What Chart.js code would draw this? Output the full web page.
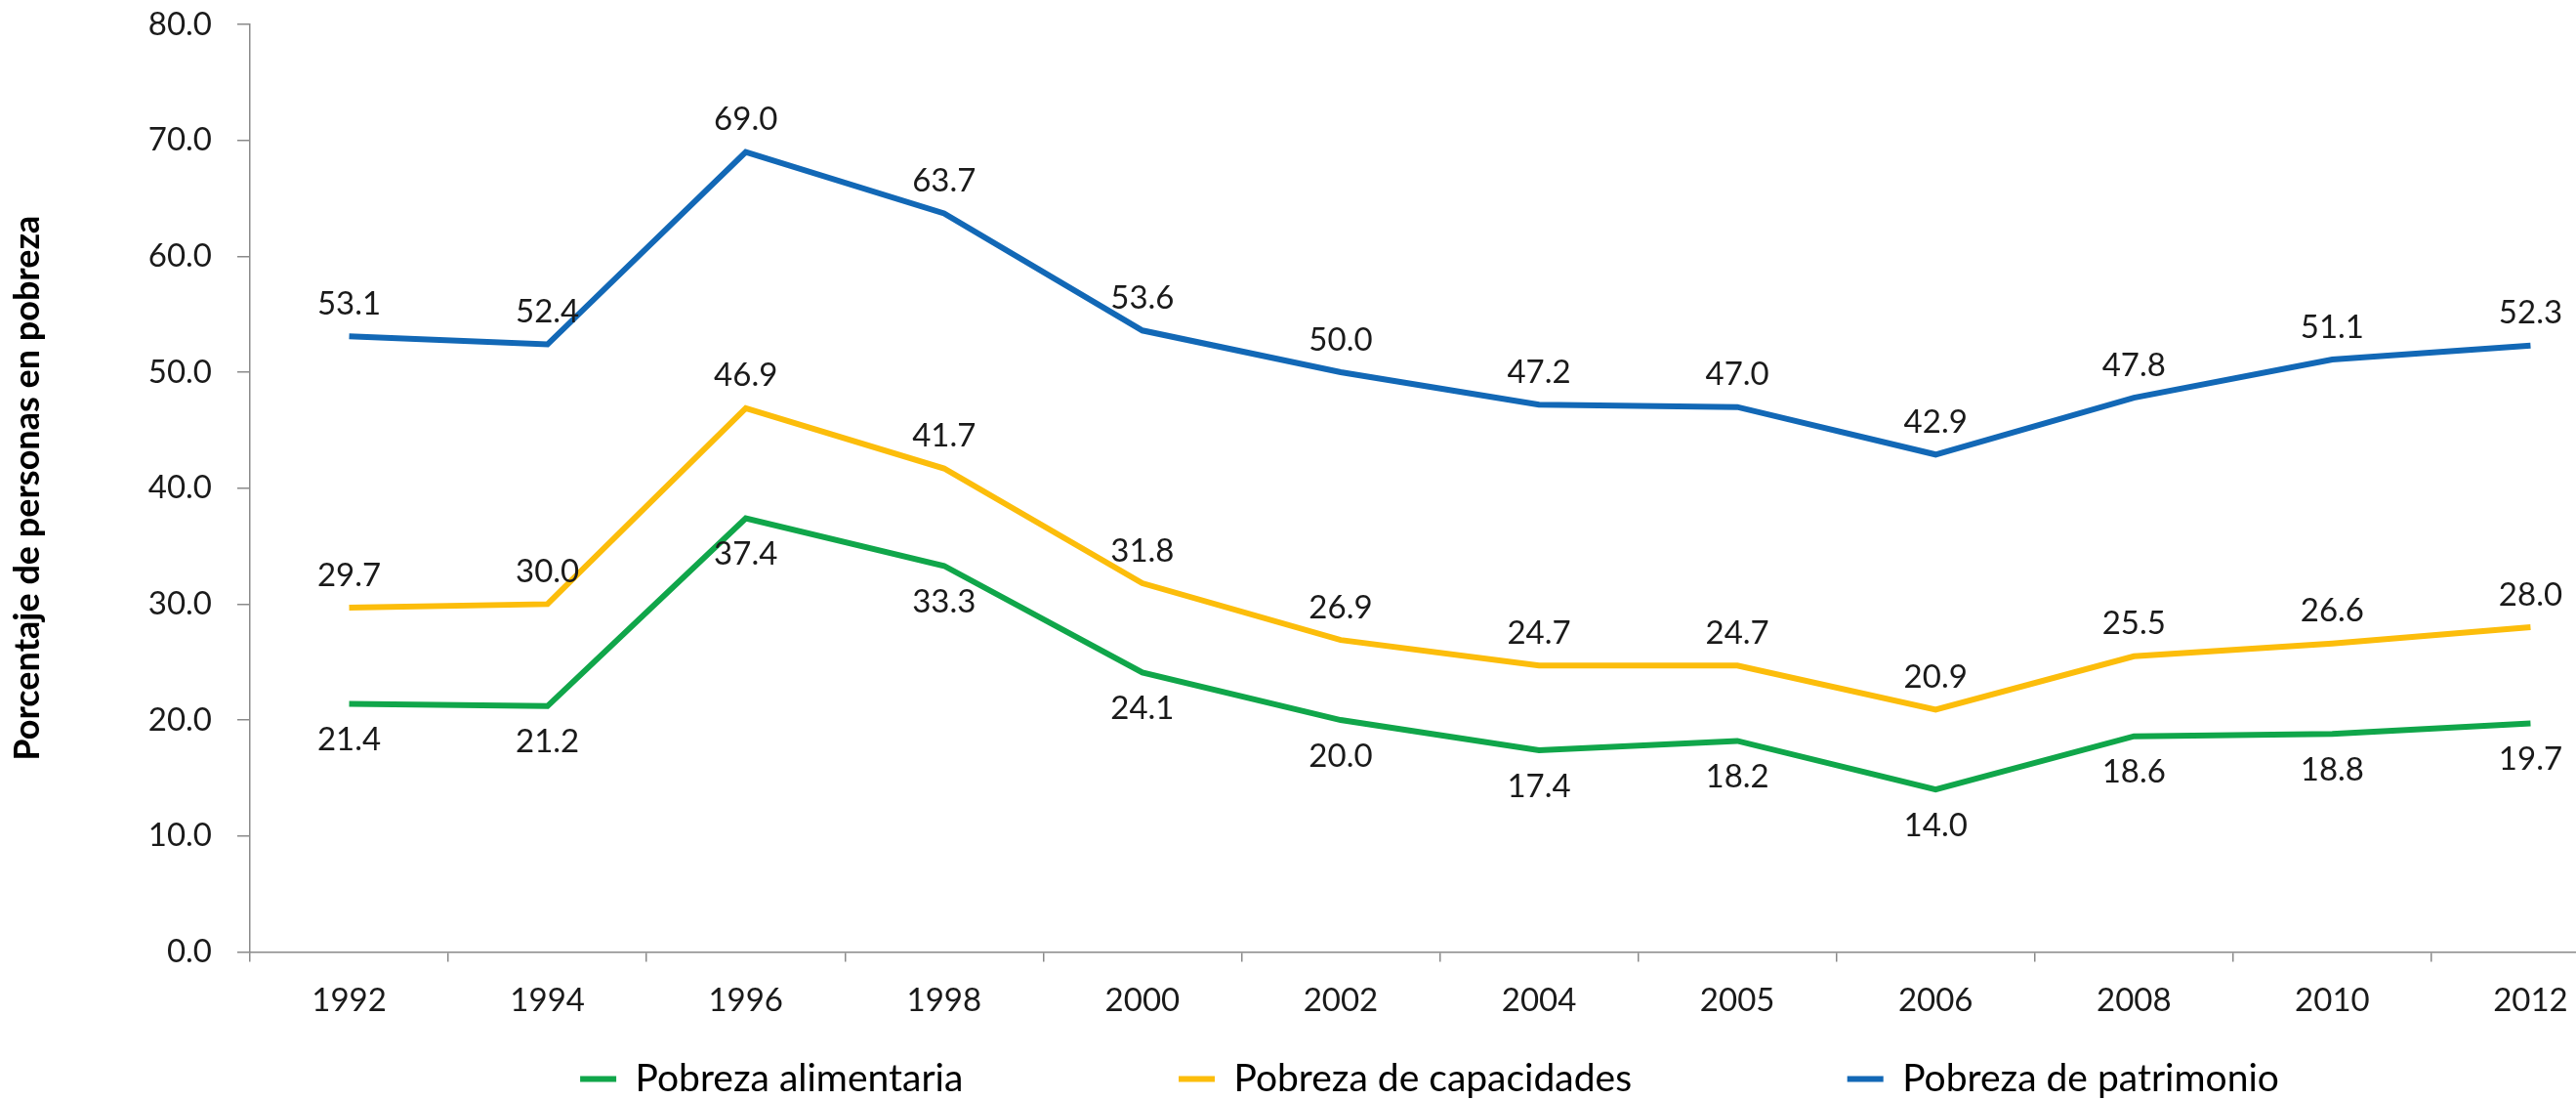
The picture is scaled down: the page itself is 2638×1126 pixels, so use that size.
<!DOCTYPE html>
<html lang="es">
<head>
<meta charset="utf-8">
<title>Porcentaje de personas en pobreza</title>
<script src="https://cdn.jsdelivr.net/npm/chart.js@4.4.1/dist/chart.umd.min.js"></script>
<style>
  html, body { margin: 0; padding: 0; background: #fff; overflow: hidden; }
  #contenedor { width: 2928px; height: 1126px; }
</style>
</head>
<body>
<div id="contenedor"><canvas id="graficoPobreza" width="2928" height="1126"></canvas></div>
<script>
// Datos
const anios = ["1992", "1994", "1996", "1998", "2000", "2002", "2004", "2005", "2006", "2008", "2010", "2012"];
const pobrezaAlimentaria = [21.4, 21.2, 37.4, 33.3, 24.1, 20.0, 17.4, 18.2, 14.0, 18.6, 18.8, 19.7];
const pobrezaCapacidades = [29.7, 30.0, 46.9, 41.7, 31.8, 26.9, 24.7, 24.7, 20.9, 25.5, 26.6, 28.0];
const pobrezaPatrimonio = [53.1, 52.4, 69.0, 63.7, 53.6, 50.0, 47.2, 47.0, 42.9, 47.8, 51.1, 52.3];

const fuente = "Lato, 'Open Sans', sans-serif";
const colorTexto = "#1a1a1a";
const colorEje = "#8a8a8a";

// dibuja el valor de cada punto encima o debajo de la linea
const etiquetasDatos = {
  id: "etiquetasDatos",
  afterDatasetsDraw(chart) {
    const ctx = chart.ctx;
    ctx.save();
    ctx.font = "33px " + fuente;
    ctx.fillStyle = colorTexto;
    ctx.textAlign = "center";
    ctx.textBaseline = "middle";
    chart.data.datasets.forEach((ds, i) => {
      const meta = chart.getDatasetMeta(i);
      const desplazamiento = ds.posEtiqueta === "abajo" ? 37 : -33;
      meta.data.forEach((punto, j) => {
        ctx.fillText(ds.data[j].toFixed(1), punto.x, punto.y + desplazamiento);
      });
    });
    ctx.restore();
  }
};

const ctx = document.getElementById("graficoPobreza").getContext("2d");
const grafico = new Chart(ctx, {
  type: "line",
  data: {
    labels: anios,
    datasets: [
      {
        label: "Pobreza alimentaria",
        data: pobrezaAlimentaria,
        borderColor: "#10a64a",
        backgroundColor: "#10a64a",
        borderWidth: 6,
        pointRadius: 0,
        tension: 0,
        posEtiqueta: "abajo"
      },
      {
        label: "Pobreza de capacidades",
        data: pobrezaCapacidades,
        borderColor: "#fcbd0b",
        backgroundColor: "#fcbd0b",
        borderWidth: 6,
        pointRadius: 0,
        tension: 0,
        posEtiqueta: "arriba"
      },
      {
        label: "Pobreza de patrimonio",
        data: pobrezaPatrimonio,
        borderColor: "#1268b6",
        backgroundColor: "#1268b6",
        borderWidth: 6,
        pointRadius: 0,
        tension: 0,
        posEtiqueta: "arriba"
      }
    ]
  },
  options: {
    responsive: false,
    animation: false,
    devicePixelRatio: 1,
    layout: { padding: { top: 25, left: 0, right: 0, bottom: -8 } },
    plugins: {
      tooltip: { enabled: false },
      legend: {
        position: "bottom",
        labels: {
          font: { family: fuente, size: 39 },
          color: "#000",
          usePointStyle: true,
          pointStyle: "line",
          pointStyleWidth: 37,
          padding: 21,
          generateLabels(chart) {
            const items = Chart.defaults.plugins.legend.labels.generateLabels(chart);
            items.forEach((it, i) => {
              if (i < items.length - 1) it.text += "\u00a0".repeat(20);
            });
            return items;
          }
        }
      }
    },
    scales: {
      x: {
        offset: true,
        grid: { offset: true, drawOnChartArea: false, tickLength: 10, color: colorEje, lineWidth: 1.5 },
        border: { color: colorEje, width: 1.5 },
        ticks: { font: { family: fuente, size: 33 }, color: colorTexto, padding: 20, maxRotation: 0 }
      },
      y: {
        min: 0,
        max: 80,
        afterFit(scale) {
          scale.width = 256;
          scale.paddingTop = 0;
          scale.paddingBottom = 0;
        },
        grid: { drawOnChartArea: false, tickLength: 13, color: colorEje, lineWidth: 1.5 },
        border: { color: colorEje, width: 1.5 },
        ticks: {
          stepSize: 10,
          font: { family: fuente, size: 33 },
          color: colorTexto,
          padding: 26,
          callback: (v) => v.toFixed(1)
        },
        title: {
          display: true,
          text: "Porcentaje de personas en pobreza",
          font: { family: fuente, size: 36, weight: "bold" },
          color: "#000",
          padding: { top: 7, bottom: 0 }
        }
      },
      // eje vacio a la derecha: el area del grafico continua fuera de la imagen
      relleno: {
        type: "linear",
        position: "right",
        display: true,
        afterFit(scale) { scale.width = 235; },
        grid: { display: false },
        ticks: { display: false },
        border: { display: false }
      }
    }
  },
  plugins: [etiquetasDatos]
});
</script>
</body>
</html>
